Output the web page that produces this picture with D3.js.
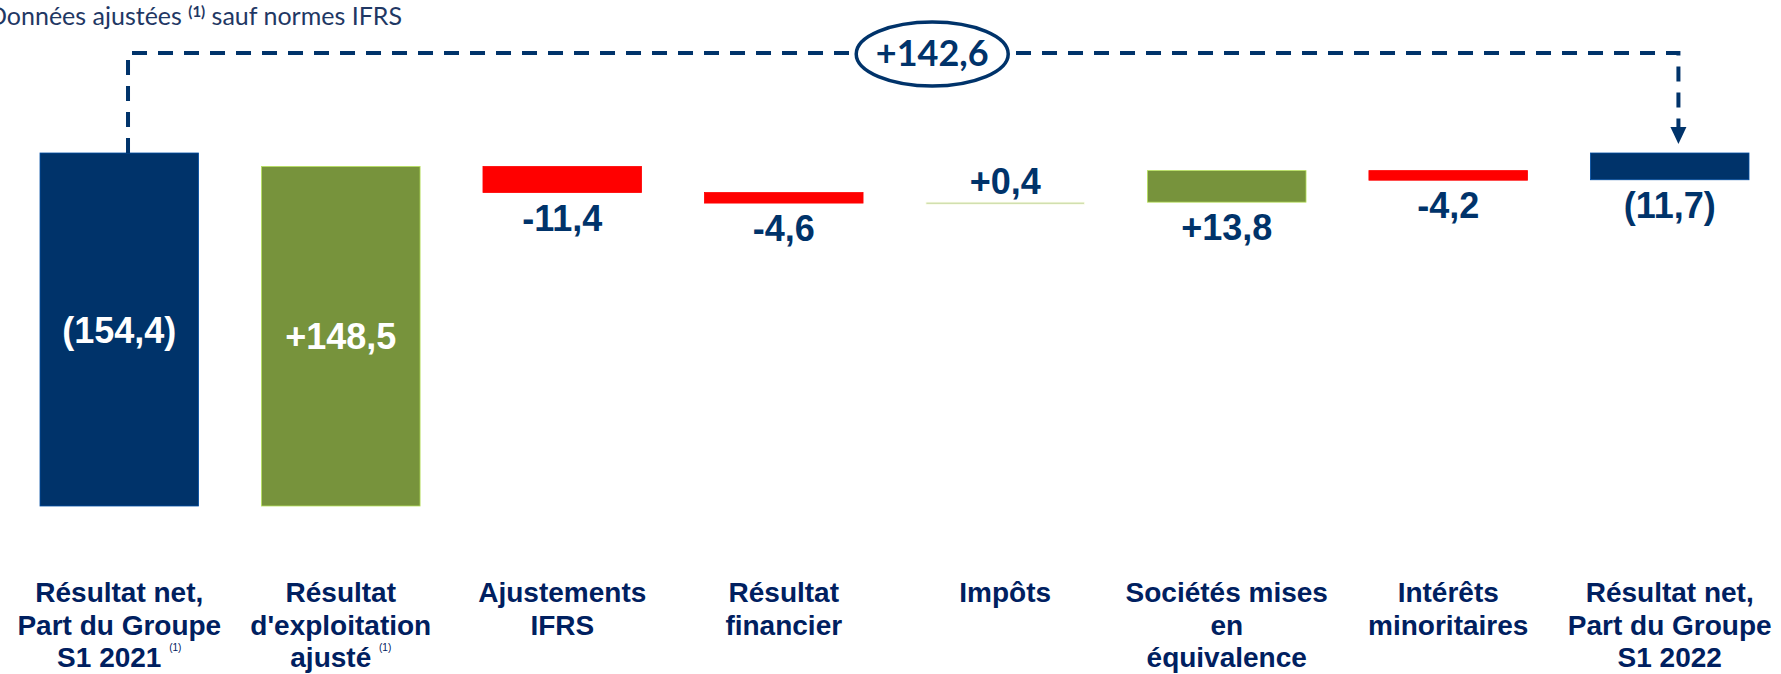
<!DOCTYPE html>
<html>
<head>
<meta charset="utf-8">
<script src="https://cdn.jsdelivr.net/npm/d3@7"></script>
<style>
body { margin: 0; background: #fff; }
svg { display: block; }
</style>
</head>
<body>
<svg id="chart" width="1781" height="674"></svg>
<script>
var categories = ['rn2021', 'rex', 'ifrs', 'fin', 'impots', 'mee', 'minor', 'rn2022'];
var labelLines = [
    ['Résultat net,', 'Part du Groupe', 'S1 2021'],
    ['Résultat', "d'exploitation", 'ajusté'],
    ['Ajustements', 'IFRS'],
    ['Résultat', 'financier'],
    ['Impôts'],
    ['Sociétés mises', 'en', 'équivalence'],
    ['Intérêts', 'minoritaires'],
    ['Résultat net,', 'Part du Groupe', 'S1 2022']
];
var notes  = [true, true, false, false, false, false, false, false];
var values = [-154.4, 148.5, -11.4, -4.6, 0.4, 13.8, -4.2, -11.7];
var kinds  = ['total', 'delta', 'delta', 'delta', 'delta', 'delta', 'delta', 'total'];
var bridgeValue = 142.6;
var subtitleText = 'Données ajustées ';
var subtitleNote = '(1)';
var subtitleRest = ' sauf normes IFRS';

var navy  = '#00336a';
var green = '#77933c';
var red   = '#ff0000';
var ink   = '#002060';

var svg = d3.select('#chart');

var x = d3.scaleBand()
    .domain(categories)
    .range([40, 1749])
    .paddingInner(0.284)
    .paddingOuter(0);

var y = d3.scaleLinear()
    .domain([0, -154.4])
    .range([153, 506]);

var locale = d3.formatLocale({decimal: ',', thousands: ' ', grouping: [3], currency: ['', '']});
var fmt = locale.format('.1f');

// waterfall steps
var steps = [];
var running = 0;
var i, v, s;

for (i = 0; i < values.length; i++) {
    v = values[i];
    if (kinds[i] == 'total') {
        s = {'key': categories[i], 'start': 0, 'end': v, 'value': v, 'kind': 'total'};
        running = v;
    } else {
        s = {'key': categories[i], 'start': running, 'end': running + v, 'value': v, 'kind': 'delta'};
        running = running + v;
    }
    s['top']    = y(Math.max(s.start, s.end));
    s['bottom'] = y(Math.min(s.start, s.end));
    steps.push(s);
}

function barColor(d) {
    if (d.kind == 'total') return navy;
    if (Math.abs(d.value) < 1) return '#c3d69b';
    return d.value > 0 ? green : red;
}

function labelText(d) {
    if (d.kind == 'total') {
        return d.value < 0 ? '(' + fmt(-d.value) + ')' : fmt(d.value);
    }
    return (d.value > 0 ? '+' : '-') + fmt(Math.abs(d.value));
}

// subtitle (the first letter runs off the left edge, as in the slide)
var sub = svg.append('text')
    .attr('x', -12)
    .attr('y', 25)
    .attr('font-family', 'Lato, "Open Sans", sans-serif')
    .attr('font-size', 25)
    .attr('fill', '#1f3864');
sub.append('tspan').text(subtitleText);
sub.append('tspan')
    .attr('font-size', 15)
    .attr('font-weight', 'bold')
    .attr('dy', -8)
    .text(subtitleNote);
sub.append('tspan')
    .attr('dy', 8)
    .text(subtitleRest);

// bars
svg.selectAll('.bar')
    .data(steps)
    .enter()
    .append('rect')
    .attr('class', 'bar')
    .attr('x', function(d) { return x(d.key); })
    .attr('y', function(d) { return d.top; })
    .attr('width', x.bandwidth())
    .attr('height', function(d) { return Math.max(2, d.bottom - d.top); })
    .attr('fill', barColor)
    .attr('stroke', function(d) { return d3.color(barColor(d)).brighter(1.2); })
    .attr('stroke-width', 0.8);

// value labels
svg.selectAll('.value')
    .data(steps)
    .enter()
    .append('text')
    .attr('class', 'value')
    .attr('x', function(d) { return x(d.key) + x.bandwidth() / 2; })
    .attr('y', function(d) {
        var h = d.bottom - d.top;
        if (h > 60) return (d.top + d.bottom) / 2 + 13;
        if (h < 3) return d.top - 8;
        return d.bottom + 38;
    })
    .attr('text-anchor', 'middle')
    .attr('font-family', '"Liberation Sans", Arial, sans-serif')
    .attr('font-weight', 'bold')
    .attr('font-size', 36)
    .attr('fill', function(d) { return (d.bottom - d.top) > 60 ? '#ffffff' : navy; })
    .text(labelText);

// category labels
var cats = svg.selectAll('.cat')
    .data(steps)
    .enter()
    .append('text')
    .attr('class', 'cat')
    .attr('text-anchor', 'middle')
    .attr('font-family', '"Liberation Sans", Arial, sans-serif')
    .attr('font-weight', 'bold')
    .attr('font-size', 28)
    .attr('fill', ink);

cats.each(function(d, k) {
    var node = d3.select(this);
    var cx = x(d.key) + x.bandwidth() / 2;
    labelLines[k].forEach(function(line, j) {
        var lastLine = j == labelLines[k].length - 1;
        node.append('tspan')
            .attr('x', cx)
            .attr('y', 602 + j * 32.5)
            .text(line + (notes[k] && lastLine ? ' ' : ''));
        if (notes[k] && lastLine) {
            node.append('tspan')
                .attr('font-size', 10)
                .attr('font-weight', 'normal')
                .attr('dy', -16)
                .text('(1)');
        }
    });
});

// bridge between the two totals
var first = steps[0];
var last  = steps[steps.length - 1];
var xl = x(first.key) + x.bandwidth() * 0.555;
var xr = x(last.key) + x.bandwidth() * 0.555;
var yb = y(0) - 100;
var tip = y(0) - 9;

svg.append('path')
    .attr('d', 'M' + xl + ',' + first.top + 'V' + yb + 'H' + xr + 'V' + (tip - 16))
    .attr('fill', 'none')
    .attr('stroke', navy)
    .attr('stroke-width', 4)
    .attr('stroke-dasharray', '15,11');

svg.append('path')
    .attr('d', 'M' + (xr - 8) + ',' + (tip - 17) + 'L' + (xr + 8) + ',' + (tip - 17) + 'L' + xr + ',' + tip + 'Z')
    .attr('fill', navy);

var ex = (xl + xr) / 2 + 29;

svg.append('ellipse')
    .attr('cx', ex)
    .attr('cy', yb + 1)
    .attr('rx', 76)
    .attr('ry', 32)
    .attr('fill', '#ffffff')
    .attr('stroke', navy)
    .attr('stroke-width', 3.5);

svg.append('text')
    .attr('x', ex)
    .attr('y', yb + 13)
    .attr('text-anchor', 'middle')
    .attr('font-family', 'Lato, "Open Sans", sans-serif')
    .attr('font-weight', 'bold')
    .attr('font-size', 36)
    .attr('fill', navy)
    .text('+' + fmt(bridgeValue));
</script>
</body>
</html>
